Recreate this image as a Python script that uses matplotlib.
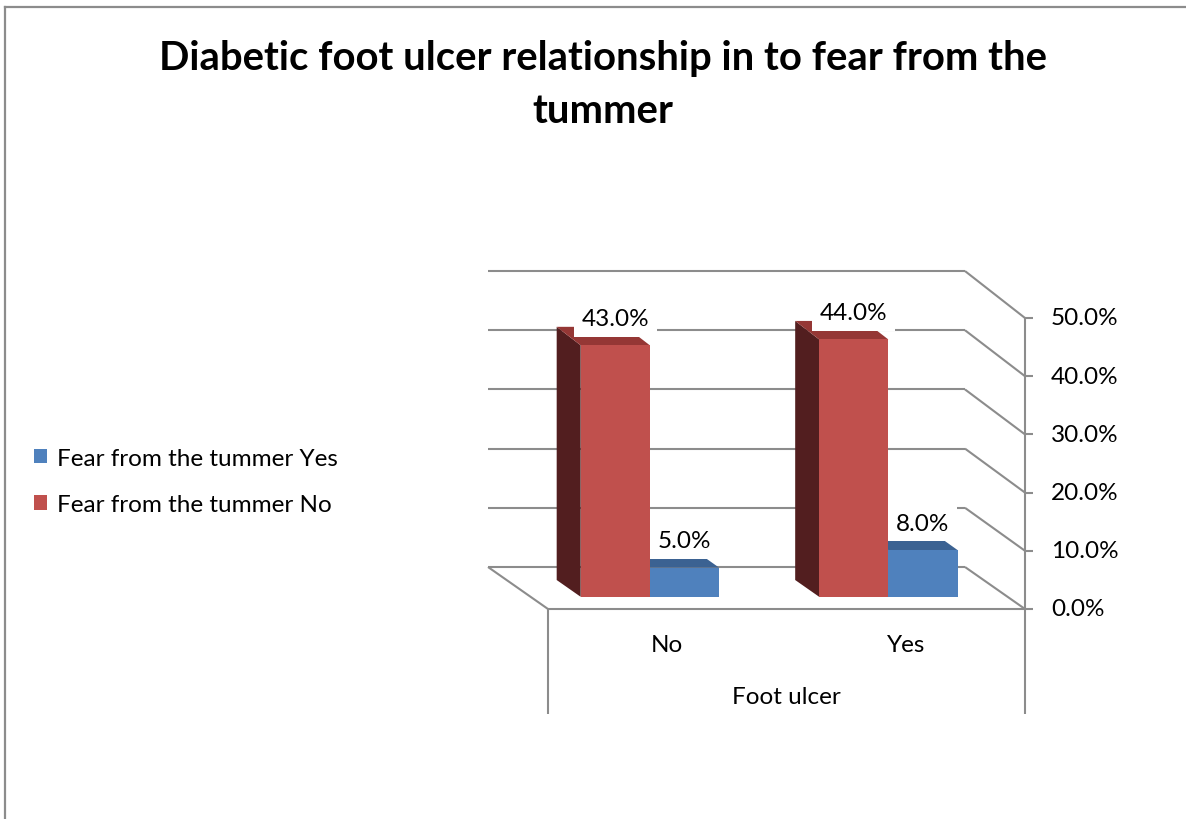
import matplotlib
matplotlib.use("Agg")
import matplotlib.pyplot as plt
from matplotlib.patches import Polygon, Patch
from matplotlib.lines import Line2D

# ---- data -------------------------------------------------------------
categories = ["No", "Yes"]
group_title = "Foot ulcer"
series_labels = ["Fear from the tummer Yes", "Fear from the tummer No"]
fear_yes = [5.0, 8.0]
fear_no = [43.0, 44.0]
value_ticks = [0, 10, 20, 30, 40, 50]
chart_title = "Diabetic foot ulcer relationship in to fear from the\ntummer"

# ---- style ------------------------------------------------------------
plt.rcParams["font.family"] = ["Lato", "DejaVu Sans"]
GRID = "#8c8c8c"
BLUE = {"front": "#4f81bd", "top": "#3b6292", "side": "#2c4a6f"}
RED = {"front": "#c0504d", "top": "#953735", "side": "#521e1f"}
FS = 17.5

W, H, DPI = 1186, 820, 100
fig = plt.figure(figsize=(W / DPI, H / DPI), dpi=DPI)
fig.patch.set_facecolor("white")

# front plane of the plot box, in figure pixels
PX_L, PX_R, PX_BOT, PX_TOP = 548, 1025, 610, 319
ax = fig.add_axes([PX_L / W, 1 - PX_BOT / H, (PX_R - PX_L) / W, (PX_BOT - PX_TOP) / H])
ax.set_xlim(0, len(categories))
ax.set_ylim(0, max(value_ticks))
ax.axis("off")

px_x = (PX_R - PX_L) / len(categories)      # pixels per category unit
px_y = (PX_BOT - PX_TOP) / max(value_ticks)  # pixels per percent
PT = 72 / DPI                                # points per pixel

# oblique depth: depth 0 = front plane, depth 1 = back wall
DEPTH_DX = -60 / px_x
DEPTH_DY = 42 / px_y
DEPTH_K = 0.017


def proj(x, v, d):
    return x + DEPTH_DX * d, DEPTH_DY * d + v * (1 + DEPTH_K * d)


def line(p, q, **kw):
    ax.plot([p[0], q[0]], [p[1], q[1]], color=GRID, lw=1.5,
            clip_on=False, solid_capstyle="butt", **kw)


n = len(categories)

# back wall gridlines and right wall diagonals
for v in value_ticks:
    line(proj(0, v, 1), proj(n, v, 1), zorder=1)
    line(proj(n, v, 1), proj(n, v, 0), zorder=1)

# floor edges
line(proj(0, 0, 1), proj(0, 0, 0), zorder=1)
line(proj(0, 0, 0), proj(n, 0, 0), zorder=1)

# value axis on the right front edge
drop = -105 / px_y
line((n, max(value_ticks)), (n, drop), zorder=1)
line((0, 0), (0, drop), zorder=1)
tick_len = 8 / px_x
for v in value_ticks:
    line((n, v), (n + tick_len, v), zorder=1)
    ax.annotate(f"{v:.1f}%", xy=(n, v), xytext=(26 * PT, 0),
                textcoords="offset points", ha="left", va="center",
                fontsize=FS, color="black", annotation_clip=False)

# category labels
for i, cat in enumerate(categories):
    ax.annotate(cat, xy=(i + 0.5, 0), xytext=(0, -36 * PT),
                textcoords="offset points", ha="center", va="center",
                fontsize=FS, annotation_clip=False)
ax.annotate(group_title, xy=(n / 2, 0), xytext=(0, -88 * PT),
            textcoords="offset points", ha="center", va="center",
            fontsize=FS, annotation_clip=False)

# bars
BAR_W = 0.29
D0, D1 = 0.29, 0.69


def bar3d(x0, x1, v, colors, z):
    front = [proj(x0, 0, D0), proj(x1, 0, D0), proj(x1, v, D0), proj(x0, v, D0)]
    top = [proj(x0, v, D0), proj(x1, v, D0), proj(x1, v, D1), proj(x0, v, D1)]
    side = [proj(x0, 0, D0), proj(x0, v, D0), proj(x0, v, D1), proj(x0, 0, D1)]
    for poly, key in ((side, "side"), (top, "top"), (front, "front")):
        ax.add_patch(Polygon(poly, closed=True, facecolor=colors[key],
                             edgecolor="none", clip_on=False, zorder=z))
    cx, cy = proj((x0 + x1) / 2, v, D0)
    return cx, cy


labels = []
for i in range(n):
    c = i + 0.5
    # the right-hand (Yes) bar sits behind the left-hand one in view order
    labels.append((bar3d(c, c + BAR_W, fear_yes[i], BLUE, 3), fear_yes[i]))
    labels.append((bar3d(c - BAR_W, c, fear_no[i], RED, 4), fear_no[i]))

for (cx, cy), v in labels:
    ax.annotate(f"{v:.1f}%", xy=(cx, cy), xytext=(0, 27 * PT),
                textcoords="offset points", ha="center", va="center",
                fontsize=FS, annotation_clip=False, zorder=10,
                bbox=dict(boxstyle="square,pad=0.32", facecolor="white",
                          edgecolor="none"))

# title
fig.text(603 / W, 1 - 85 / H, chart_title, ha="center", va="center",
         fontsize=28.8, fontweight="bold", linespacing=1.55)

# legend
handles = [Patch(facecolor=BLUE["front"], edgecolor="none"),
           Patch(facecolor=RED["front"], edgecolor="none")]
fig.legend(handles, series_labels, loc="center left",
           bbox_to_anchor=(34 / W, 1 - 482.5 / H), frameon=False,
           fontsize=FS, handlelength=0.55, handleheight=0.55,
           handletextpad=0.4, labelspacing=1.05, borderpad=0,
           borderaxespad=0)

# chart area border
bx, by = 5 / W, 1 - 8 / H
fig.add_artist(Line2D([bx, bx], [0, by], color=GRID, lw=1.6, transform=fig.transFigure))
fig.add_artist(Line2D([bx, 1], [by, by], color=GRID, lw=1.6, transform=fig.transFigure))

fig.savefig("out.png", dpi=DPI)
